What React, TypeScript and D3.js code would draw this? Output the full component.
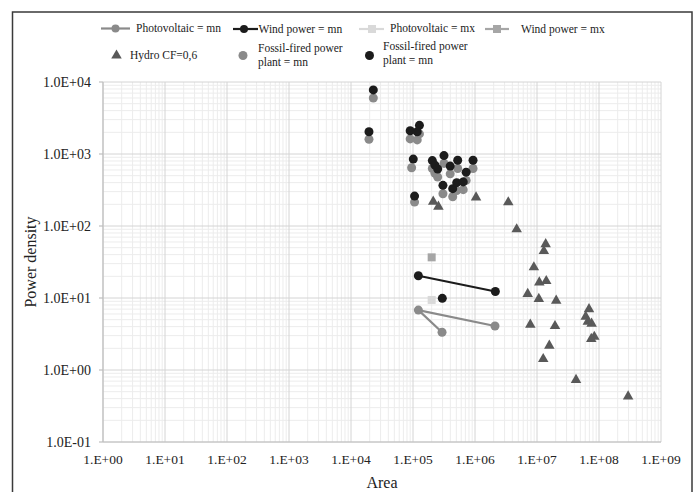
import React from "react";
import * as d3 from "d3";

// ---- data ----
const pvMnX = [2.94e5, 1.22e5, 2.1e6];
const pvMnY = [3.34, 6.8, 4.08];
const windMnX = [1.22e5, 2.13e6];
const windMnY = [20.4, 12.3];
const pvMxX = [2.0e5];
const pvMxY = [9.4];
const windMxX = [2.0e5];
const windMxY = [36.7];
const hydroX = [2.12e5, 2.57e5, 1.04e6, 3.44e6, 4.7e6, 1.38e7, 1.29e7, 8.9e6, 1.09e7, 1.41e7, 7.08e6, 1.07e7, 2.04e7, 6.9e7, 6.1e7, 6.6e7, 7.6e7, 7.8e6, 1.95e7, 8.4e7, 7.5e7, 1.58e7, 1.26e7, 4.26e7, 2.95e8];
const hydroY = [218, 186, 250, 214, 90, 56, 45, 26.7, 16.5, 17.2, 11.4, 9.7, 9.2, 7.0, 5.5, 4.7, 4.4, 4.26, 4.08, 2.9, 2.7, 2.18, 1.42, 0.73, 0.43];
const fossilGrayX = [2.29e4, 1.95e4, 9.0e4, 1.17e5, 1.27e5, 9.5e4, 1.06e5, 2.05e5, 2.26e5, 2.5e5, 3.16e5, 3.98e5, 5.26e5, 7.2e5, 9.3e5, 3.04e5, 4.37e5, 5.07e5, 6.46e5];
const fossilGrayY = [6.0e3, 1.6e3, 1.62e3, 1.57e3, 1.9e3, 645, 215, 630, 540, 480, 740, 530, 630, 430, 630, 280, 255, 310, 320];
const fossilBlackX = [2.29e4, 1.95e4, 9.0e4, 1.27e5, 1.17e5, 1.01e5, 1.06e5, 2.05e5, 2.26e5, 2.5e5, 3.16e5, 3.98e5, 5.26e5, 7.2e5, 9.3e5, 3.04e5, 4.37e5, 5.07e5, 6.46e5, 2.97e5];
const fossilBlackY = [7.76e3, 2.04e3, 2.1e3, 2.5e3, 2.04e3, 850, 260, 810, 700, 620, 950, 680, 820, 560, 820, 367, 330, 400, 410, 9.9];

const xTicks = [1, 1e1, 1e2, 1e3, 1e4, 1e5, 1e6, 1e7, 1e8, 1e9];
const xTickLabels = ["1.E+00", "1.E+01", "1.E+02", "1.E+03", "1.E+04", "1.E+05", "1.E+06", "1.E+07", "1.E+08", "1.E+09"];
const yTicks = [0.1, 1, 10, 100, 1000, 10000];
const yTickLabels = ["1.0E-01", "1.0E+00", "1.0E+01", "1.0E+02", "1.0E+03", "1.0E+04"];

const legendNames = [
  "Photovoltaic = mn",
  "Wind power = mn",
  "Photovoltaic = mx",
  "Wind power = mx",
  "Hydro CF=0,6",
  "Fossil-fired power|plant = mn",
  "Fossil-fired power|plant = mn",
];

const FONT = "'Liberation Serif', 'Times New Roman', serif";
const C_GRAY = "#8a8a8a";
const C_BLACK = "#1c1c1c";
const C_TRI = "#595959";
const C_PVMX = "#d9d9d9";
const C_WMX = "#a6a6a6";

export default function App() {
  const W = 698, H = 492;
  const x = d3.scaleLog().domain([1, 1e9]).range([103, 661]);
  const y = d3.scaleLog().domain([0.1, 1e4]).range([442, 82]);

  const xMinor: number[] = [];
  for (let e = 0; e < 9; e++) for (let k = 2; k <= 9; k++) xMinor.push(k * Math.pow(10, e));
  const yMinor: number[] = [];
  for (let e = -1; e < 4; e++) for (let k = 2; k <= 9; k++) yMinor.push(k * Math.pow(10, e));

  const line = d3.line<[number, number]>().x((d) => x(d[0])).y((d) => y(d[1]));
  const tri = d3.symbol().type(d3.symbolTriangle).size(48)() as string;
  const zip = (a: number[], b: number[]) => a.map((v, i) => [v, b[i]] as [number, number]);

  const [x0, x1] = x.range();
  const [yb, yt] = y.range();

  return (
    <svg width={W} height={H} style={{ position: "absolute", left: 0, top: 0, background: "#fff" }} fontFamily={FONT}>
      <rect x={0} y={0} width={W} height={H} fill="#fff" />
      <rect x={12.5} y={12} width={679.5} height={500} fill="none" stroke="#3a3a3a" strokeWidth={1.5} />

      {/* minor grid */}
      <g stroke="#ececec" strokeWidth={1}>
        {xMinor.map((v, i) => (
          <line key={"xm" + i} x1={x(v)} x2={x(v)} y1={yt} y2={yb} />
        ))}
        {yMinor.map((v, i) => (
          <line key={"ym" + i} x1={x0} x2={x1} y1={y(v)} y2={y(v)} />
        ))}
      </g>
      {/* major grid */}
      <g stroke="#d4d4d4" strokeWidth={1}>
        {xTicks.map((v, i) => (
          <line key={"xM" + i} x1={x(v)} x2={x(v)} y1={yt} y2={yb} />
        ))}
        {yTicks.map((v, i) => (
          <line key={"yM" + i} x1={x0} x2={x1} y1={y(v)} y2={y(v)} />
        ))}
      </g>
      {/* axes */}
      <g stroke="#bfbfbf" strokeWidth={1.2}>
        <line x1={x0} x2={x0} y1={yt} y2={yb} />
        <line x1={x0} x2={x1} y1={yb} y2={yb} />
        {yTicks.map((v, i) => (
          <line key={"yt" + i} x1={x0 - 4} x2={x0} y1={y(v)} y2={y(v)} />
        ))}
      </g>
      {/* tick labels */}
      <g fontSize={14} fill="#222">
        {yTicks.map((v, i) => (
          <text key={"yl" + i} x={91} y={y(v)} textAnchor="end" dominantBaseline="central">
            {yTickLabels[i]}
          </text>
        ))}
      </g>
      <g fontSize={13.5} fill="#222">
        {xTicks.map((v, i) => (
          <text key={"xl" + i} x={x(v)} y={459.5} textAnchor="middle" dominantBaseline="central">
            {xTickLabels[i]}
          </text>
        ))}
      </g>
      <text x={382} y={482} textAnchor="middle" dominantBaseline="central" fontSize={16} fill="#222">
        Area
      </text>
      <text transform="translate(30,262) rotate(-90)" textAnchor="middle" dominantBaseline="central" fontSize={16} fill="#222">
        Power density
      </text>

      {/* series */}
      <path d={line(zip(pvMnX, pvMnY)) || ""} fill="none" stroke={C_GRAY} strokeWidth={2.2} />
      {zip(pvMnX, pvMnY).map((d, i) => (
        <circle key={"pv" + i} cx={x(d[0])} cy={y(d[1])} r={4.5} fill={C_GRAY} />
      ))}
      <path d={line(zip(windMnX, windMnY)) || ""} fill="none" stroke={C_BLACK} strokeWidth={2.2} />
      {zip(windMnX, windMnY).map((d, i) => (
        <circle key={"wm" + i} cx={x(d[0])} cy={y(d[1])} r={4.5} fill={C_BLACK} />
      ))}
      {zip(pvMxX, pvMxY).map((d, i) => (
        <rect key={"px" + i} x={x(d[0]) - 4} y={y(d[1]) - 4} width={8} height={8} fill={C_PVMX} />
      ))}
      {zip(windMxX, windMxY).map((d, i) => (
        <rect key={"wx" + i} x={x(d[0]) - 4} y={y(d[1]) - 4} width={8} height={8} fill={C_WMX} />
      ))}
      {zip(hydroX, hydroY).map((d, i) => (
        <path key={"h" + i} d={tri} transform={`translate(${x(d[0])},${y(d[1])})`} fill={C_TRI} />
      ))}
      {zip(fossilGrayX, fossilGrayY).map((d, i) => (
        <circle key={"fg" + i} cx={x(d[0])} cy={y(d[1])} r={4.5} fill={C_GRAY} />
      ))}
      {zip(fossilBlackX, fossilBlackY).map((d, i) => (
        <circle key={"fb" + i} cx={x(d[0])} cy={y(d[1])} r={4.5} fill={C_BLACK} />
      ))}

      {/* legend */}
      <g fontSize={11.5} fill="#222">
        <line x1={101} x2={130} y1={28.5} y2={28.5} stroke={C_GRAY} strokeWidth={2.2} />
        <circle cx={115.5} cy={28.5} r={4} fill={C_GRAY} />
        <text x={136} y={28} dominantBaseline="central">{legendNames[0]}</text>

        <line x1={233} x2={258} y1={29} y2={29} stroke={C_BLACK} strokeWidth={2.2} />
        <circle cx={244} cy={29} r={4} fill={C_BLACK} />
        <text x={258.5} y={29} dominantBaseline="central">{legendNames[1]}</text>

        <line x1={359} x2={384} y1={29} y2={29} stroke={C_PVMX} strokeWidth={2.2} />
        <rect x={368} y={25} width={8} height={8} fill={C_PVMX} />
        <text x={390} y={27.5} dominantBaseline="central">{legendNames[2]}</text>

        <line x1={485} x2={509} y1={29} y2={29} stroke={C_WMX} strokeWidth={2.2} />
        <rect x={493} y={25} width={8} height={8} fill={C_WMX} />
        <text x={521} y={29} dominantBaseline="central">{legendNames[3]}</text>

        <path d={tri} transform="translate(116.5,55.5)" fill={C_TRI} />
        <text x={130} y={54.5} dominantBaseline="central">{legendNames[4]}</text>

        <circle cx={243} cy={55.5} r={4.5} fill={C_GRAY} />
        <text x={258} y={48} dominantBaseline="central">{legendNames[5].split("|")[0]}</text>
        <text x={258} y={61.5} dominantBaseline="central">{legendNames[5].split("|")[1]}</text>

        <circle cx={369.5} cy={55.5} r={4.5} fill={C_BLACK} />
        <text x={383} y={46} dominantBaseline="central">{legendNames[6].split("|")[0]}</text>
        <text x={383} y={60} dominantBaseline="central">{legendNames[6].split("|")[1]}</text>
      </g>
    </svg>
  );
}
